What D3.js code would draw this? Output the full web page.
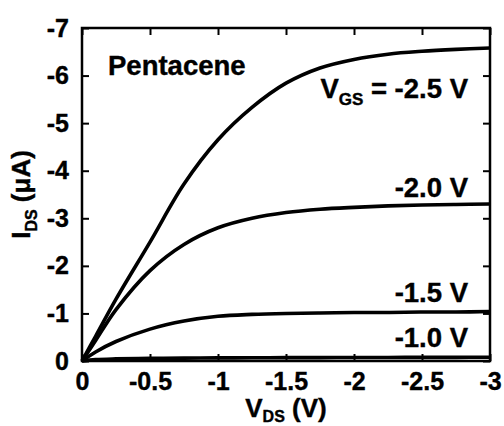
<!DOCTYPE html>
<html>
<head>
<meta charset="utf-8">
<script src="https://cdn.jsdelivr.net/npm/d3@7"></script>
<style>
  body { margin: 0; background: #fff; }
  text { font-family: "Liberation Sans", Arial, sans-serif; font-weight: bold; fill: #000; stroke: #000; stroke-width: 0.4px; }
</style>
</head>
<body>
<svg id="chart" width="504" height="426"></svg>
<script>
// drain voltage sweep (V)
const vds = [0, -0.1, -0.25, -0.5, -0.75, -1, -1.25, -1.5, -1.75, -2, -2.25, -2.5, -2.75, -3];

// drain current (uA) for each gate voltage
const id25 = [0, -0.52, -1.3, -2.5, -3.72, -4.65, -5.33, -5.84, -6.16, -6.34, -6.45, -6.51, -6.55, -6.58];
const id20 = [0, -0.43, -1.08, -1.9, -2.45, -2.8, -3.0, -3.12, -3.19, -3.23, -3.26, -3.28, -3.29, -3.3];
const id15 = [0, -0.19, -0.41, -0.67, -0.84, -0.94, -0.98, -1.0, -1.01, -1.02, -1.02, -1.03, -1.03, -1.04];
const id10 = [0, -0.03, -0.045, -0.055, -0.06, -0.065, -0.068, -0.07, -0.072, -0.074, -0.075, -0.076, -0.077, -0.078];

const xTicks = [0, -0.5, -1, -1.5, -2, -2.5, -3];
const yTicks = [0, -1, -2, -3, -4, -5, -6, -7];

const series = [
  { name: '-2.5', values: id25 },
  { name: '-2.0', values: id20 },
  { name: '-1.5', values: id15 },
  { name: '-1.0', values: id10 }
];

const svg = d3.select('#chart');
const m = { left: 82, right: 490, top: 28, bottom: 361 };

const x = d3.scaleLinear().domain([0, -3]).range([m.left, m.right]);
const y = d3.scaleLinear().domain([0, -7]).range([m.bottom, m.top]);

const fmt = d => d === 0 ? '0' : String(d);

// axes with inward ticks on all four sides
const axisStyle = g => {
  g.select('.domain').remove();
  g.selectAll('line').attr('stroke', '#000').attr('stroke-width', 2);
};

svg.append('g')
  .attr('transform', `translate(0,${m.bottom})`)
  .call(d3.axisBottom(x).tickValues(xTicks).tickFormat(fmt).tickSizeInner(-7).tickSizeOuter(0).tickPadding(11))
  .call(axisStyle)
  .call(g => g.selectAll('text').attr('font-size', 25).attr('fill', '#000'));

svg.append('g')
  .attr('transform', `translate(0,${m.top})`)
  .call(d3.axisTop(x).tickValues(xTicks).tickFormat('').tickSizeInner(-7).tickSizeOuter(0))
  .call(axisStyle);

svg.append('g')
  .attr('transform', `translate(${m.left},0)`)
  .call(d3.axisLeft(y).tickValues(yTicks).tickFormat(fmt).tickSizeInner(-7).tickSizeOuter(0).tickPadding(13))
  .call(axisStyle)
  .call(g => g.selectAll('text').attr('font-size', 25).attr('fill', '#000'));

svg.append('g')
  .attr('transform', `translate(${m.right},0)`)
  .call(d3.axisRight(y).tickValues(yTicks).tickFormat('').tickSizeInner(-7).tickSizeOuter(0))
  .call(axisStyle);

// frame
svg.append('rect')
  .attr('x', m.left).attr('y', m.top)
  .attr('width', m.right - m.left).attr('height', m.bottom - m.top)
  .attr('fill', 'none').attr('stroke', '#000').attr('stroke-width', 2.5);

// curves
const line = d3.line()
  .x((d, i) => x(vds[i]))
  .y(d => y(d))
  .curve(d3.curveCatmullRom.alpha(0.5));

svg.append('g').selectAll('path')
  .data(series)
  .join('path')
  .attr('d', d => line(d.values))
  .attr('fill', 'none')
  .attr('stroke', '#000')
  .attr('stroke-width', 3.6);

// annotations
svg.append('text').attr('x', 108).attr('y', 75).attr('font-size', 27.5).text('Pentacene');

const vgs = svg.append('text').attr('x', 468).attr('y', 98).attr('font-size', 27.5).attr('text-anchor', 'end');
vgs.append('tspan').text('V');
vgs.append('tspan').attr('font-size', 17).attr('dy', 7).text('GS');
vgs.append('tspan').attr('dy', -7).text(' = -2.5 V');

svg.append('text').attr('x', 468).attr('y', 197).attr('font-size', 27.5).attr('text-anchor', 'end').text('-2.0 V');
svg.append('text').attr('x', 468).attr('y', 302).attr('font-size', 27.5).attr('text-anchor', 'end').text('-1.5 V');
svg.append('text').attr('x', 468).attr('y', 347).attr('font-size', 27.5).attr('text-anchor', 'end').text('-1.0 V');

// axis titles
const xt = svg.append('text').attr('x', (m.left + m.right) / 2).attr('y', 417).attr('font-size', 26).attr('text-anchor', 'middle');
xt.append('tspan').text('V');
xt.append('tspan').attr('font-size', 16).attr('dy', 5).text('DS');
xt.append('tspan').attr('dy', -5).text(' (V)');

const yt = svg.append('text')
  .attr('transform', `translate(30,${(m.top + m.bottom) / 2}) rotate(-90)`)
  .attr('font-size', 26).attr('text-anchor', 'middle');
yt.append('tspan').text('I');
yt.append('tspan').attr('font-size', 16).attr('dy', 7).text('DS');
yt.append('tspan').attr('dy', -7).text(' (μA)');
</script>
</body>
</html>
